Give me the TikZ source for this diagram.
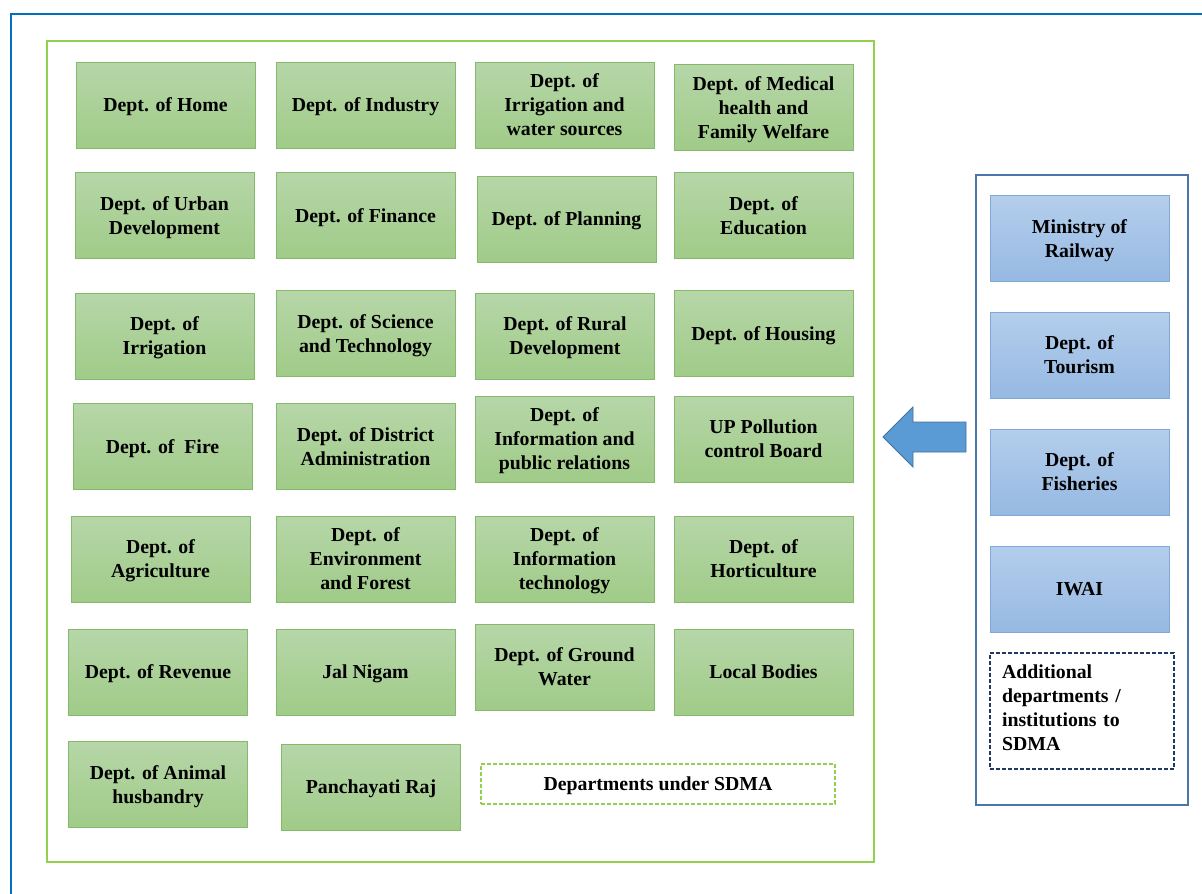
\documentclass[tikz,border=0pt]{standalone}
\usepackage{fontspec}
\setmainfont{Liberation Serif}
\usepackage{tikz}
\usetikzlibrary{positioning, shapes, arrows.meta}
\usepackage{xcolor}
\definecolor{frameblue}{HTML}{0070C0}
\definecolor{framegreen}{HTML}{92D050}
\definecolor{gtop}{HTML}{B6D6A8}
\definecolor{gbot}{HTML}{A0CB88}
\definecolor{gline}{HTML}{84BA6A}
\definecolor{btop}{HTML}{B4CEEC}
\definecolor{bbot}{HTML}{96B9E2}
\definecolor{bline}{HTML}{80A9DA}
\definecolor{panelline}{HTML}{4A76A8}
\definecolor{arrowfill}{HTML}{5B9BD5}
\definecolor{arrowline}{HTML}{41719C}
\definecolor{navy}{HTML}{1F3864}

\tikzset{
  dept/.style={draw=gline, line width=0.8pt, top color=gtop, bottom color=gbot,
    minimum width=179pt, minimum height=86pt, inner sep=2pt, align=center,
    font=\bfseries\fontsize{19.8}{24}\selectfont, text depth=-0.9pt},
  extra/.style={dept, draw=bline, top color=btop, bottom color=bbot},
  note/.style={draw, dash pattern=on 4pt off 2pt, line width=1.3pt, align=left, inner sep=0pt,
    font=\bfseries\fontsize{19.8}{24}\selectfont, text depth=-0.9pt}
}

\begin{document}
\begin{tikzpicture}[x=1pt, y=-1pt]
\useasboundingbox (0,0) rectangle (1202,894);
\draw[frameblue, line width=2pt] (11,894) -- (11,14) -- (1202,14);

% departments under SDMA
\draw[framegreen, line width=2.5pt] (47,41) rectangle (874,862);

\node[dept] (home) at (165.5,105) {Dept. of Home};
\node[dept] (industry) at (365.5,105) {Dept. of Industry};
\node[dept] (irrwater) at (564.5,105) {Dept. of\\Irrigation and\\water sources};
\node[dept] (medical) at (763.5,107.5) {Dept. of Medical\\health and\\Family Welfare};

\node[dept] (urban) at (164.5,215.5) {Dept. of Urban\\Development};
\node[dept] (finance) at (365.5,215.5) {Dept. of Finance};
\node[dept] (planning) at (566.5,219) {Dept. of Planning};
\node[dept] (education) at (763.5,215.5) {Dept. of\\Education};

\node[dept] (irrigation) at (164.5,336) {Dept. of\\Irrigation};
\node[dept] (science) at (365.5,333.5) {Dept. of Science\\and Technology};
\node[dept] (rural) at (565,336) {Dept. of Rural\\Development};
\node[dept] (housing) at (763.5,333.5) {Dept. of Housing};

\node[dept] (fire) at (162.5,446.5) {Dept. of\ \ Fire};
\node[dept] (district) at (365.5,446.5) {Dept. of District\\Administration};
\node[dept] (info) at (564.5,439) {Dept. of\\Information and\\public relations};
\node[dept] (pollution) at (763.5,439) {UP Pollution\\control Board};

\node[dept] (agri) at (160.5,559) {Dept. of\\Agriculture};
\node[dept] (env) at (365.5,559) {Dept. of\\Environment\\and Forest};
\node[dept] (infotech) at (564.5,559) {Dept. of\\Information\\technology};
\node[dept] (horti) at (763.5,559) {Dept. of\\Horticulture};

\node[dept] (revenue) at (158,672) {Dept. of Revenue};
\node[dept] (jal) at (365.5,672) {Jal Nigam};
\node[dept] (ground) at (564.5,667) {Dept. of Ground\\Water};
\node[dept] (local) at (763.5,672) {Local Bodies};

\node[dept] (animal) at (158,784.5) {Dept. of Animal\\husbandry};
\node[dept] (panchayat) at (371,787) {Panchayati Raj};
\node[note, draw=framegreen, align=center, minimum width=354pt, minimum height=40pt] (under) at (658,784) {Departments under SDMA};

% additional ones
\draw[panelline, line width=1.5pt] (976,175) rectangle (1188,805);

\node[extra] (railway) at (1079.5,238.5) {Ministry of\\Railway};
\node[extra] (tourism) at (1079.5,355) {Dept. of\\Tourism};
\node[extra] (fisheries) at (1079.5,472) {Dept. of\\Fisheries};
\node[extra] (iwai) at (1079.5,589) {IWAI};
\node[note, draw=navy, line width=1.2pt, text width=160pt, minimum height=116pt, inner xsep=12pt,
  text depth={}, execute at begin node={\rule{0pt}{20pt}},
  execute at end node={\rule[-13.4pt]{0pt}{0pt}}] (additional) at (1082,711) {Additional\\departments /\\institutions to\\SDMA};

\draw[arrowline, fill=arrowfill, line width=0.8pt] (883,437) -- (913,407) -- (913,422) -- (966,422)
  -- (966,452) -- (913,452) -- (913,467) -- cycle;
\end{tikzpicture}
\end{document}
